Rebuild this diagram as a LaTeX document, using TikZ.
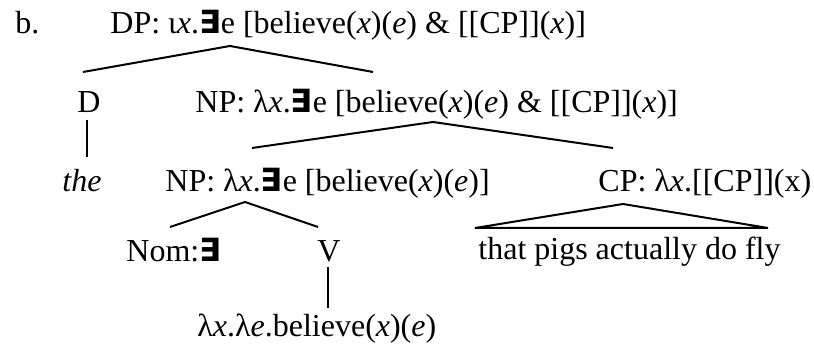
\documentclass[tikz,border=0pt]{standalone}
\usepackage{fontspec}
\setmainfont{Liberation Serif}
\newfontfamily\symf{DejaVu Sans}
\usepackage{tikz}
\tikzset{
  lbl/.style={anchor=base west,inner sep=0pt},
  mid/.style={anchor=base,inner sep=0pt},
  br/.style={line width=1pt}
}
\newcommand{\exq}{{\symf\bfseries ∃}}
\newcommand{\vx}{\textit{x}}
\newcommand{\ve}{\textit{e}}

\begin{document}
\begin{tikzpicture}[x=0.5pt,y=-0.5pt,font=\fontsize{16}{19}\selectfont]
\useasboundingbox (0,0) rectangle (814,346);
\node[lbl] (ex) at (15,34) {b.};
\node[lbl] (dp) at (110,34) {DP: ι\vx.\exq e [believe(\vx)(\ve) \& [[CP]](\vx)]};
\node[mid] (d) at (89,113) {D};
\node[lbl] (np) at (195,113) {NP: λ\vx.\exq e [believe(\vx)(\ve) \& [[CP]](\vx)]};
\node[mid] (the) at (82,192) {\textit{the}};
\node[lbl] (npb) at (165,192) {NP: λ\vx.\exq e [believe(\vx)(\ve)]};
\node[lbl] (cp) at (598,192) {CP: λ\vx.[[CP]](x)};
\node[lbl] (nom) at (126,262) {Nom:\exq};
\node[mid] (v) at (329,262) {V};
\node[lbl] (clause) at (478,260) {that pigs actually do fly};
\node[lbl] (lex) at (197,337) {λ\vx.λ\ve.believe(\vx)(\ve)};
% branch points
\coordinate (dpA) at (230,46);
\coordinate (dT) at (83,72);   \coordinate (npT) at (373,72);
\coordinate (dB) at (87,120);  \coordinate (theT) at (87,157);
\coordinate (npA) at (433,122);
\coordinate (npbT) at (252,148); \coordinate (cpT) at (613,148);
\coordinate (npbA) at (245,202);
\coordinate (nomT) at (170,227); \coordinate (vT) at (318,227);
\coordinate (vB) at (328,267);  \coordinate (lexT) at (328,308);
\coordinate (cpA) at (623,204);
\coordinate (triL) at (475,228); \coordinate (triR) at (768,228);
\draw[br] (dT) -- (dpA) -- (npT);
\draw[br] (dB) -- (theT);
\draw[br] (npbT) -- (npA) -- (cpT);
\draw[br] (nomT) -- (npbA) -- (vT);
\draw[br] (vB) -- (lexT);
\draw[br] (triL) -- (cpA) -- (triR) -- cycle;
\end{tikzpicture}
\end{document}
